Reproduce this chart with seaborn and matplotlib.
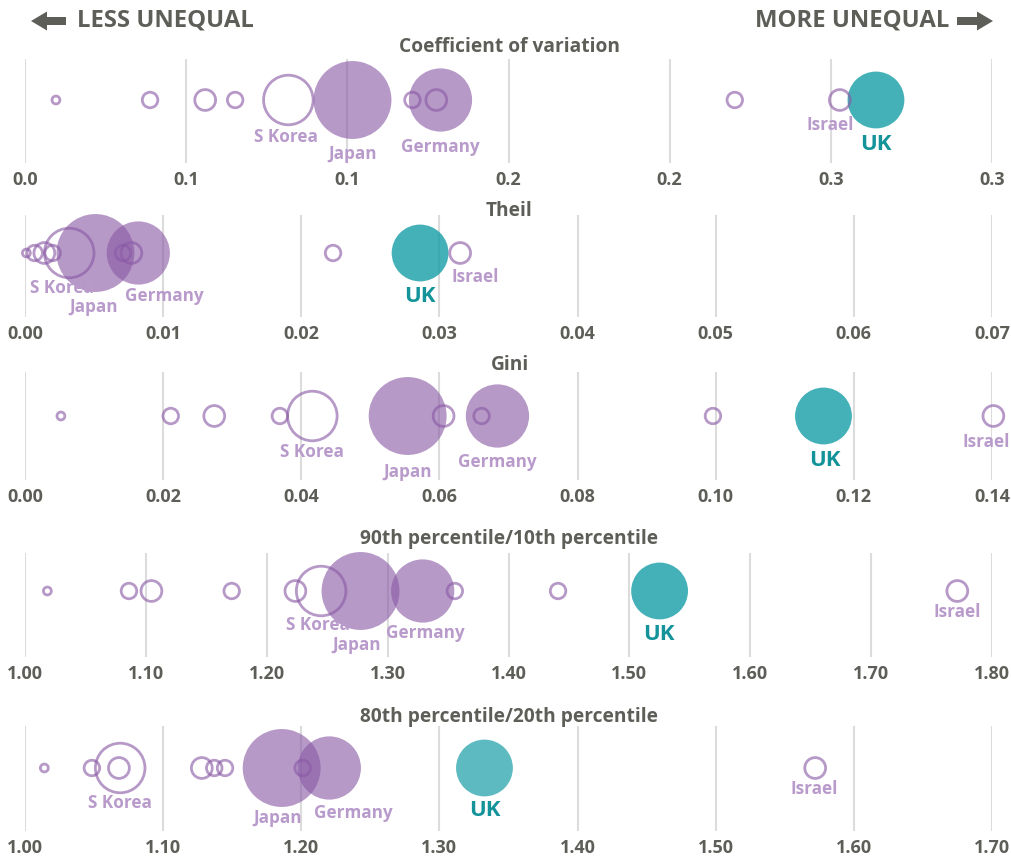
import matplotlib
matplotlib.use("Agg")
import matplotlib.pyplot as plt
import seaborn as sns
import pandas as pd
from matplotlib.patches import FancyArrow

# ---------------- data ----------------
# population-like weights (millions) set the bubble area
cv_values  = [0.0096, 0.0388, 0.0559, 0.0652, 0.0817, 0.1016, 0.1202, 0.1276, 0.1289, 0.2202, 0.2528, 0.2640]
cv_pop     = [1.3, 5, 9, 5, 51, 126, 5, 9, 83, 5, 9, 67]
cv_country = [None, None, None, None, "S Korea", "Japan", None, None, "Germany", None, "Israel", "UK"]
cv_ticks   = [0.0, 0.05, 0.10, 0.15, 0.20, 0.25, 0.30]
cv_ticklabels = ["0.0", "0.1", "0.1", "0.2", "0.2", "0.3", "0.3"]

theil_values  = [0.0001, 0.0007, 0.0014, 0.0020, 0.0032, 0.0051, 0.0071, 0.0077, 0.0082, 0.0223, 0.0286, 0.0315]
theil_pop     = [1.3, 5, 9, 5, 51, 126, 5, 9, 83, 5, 67, 9]
theil_country = [None, None, None, None, "S Korea", "Japan", None, None, "Germany", None, "UK", "Israel"]
theil_ticks   = [0.00, 0.01, 0.02, 0.03, 0.04, 0.05, 0.06, 0.07]
theil_ticklabels = ["0.00", "0.01", "0.02", "0.03", "0.04", "0.05", "0.06", "0.07"]

gini_values  = [0.0052, 0.0211, 0.0274, 0.0369, 0.0416, 0.0554, 0.0606, 0.0661, 0.0684, 0.0996, 0.1156, 0.1402]
gini_pop     = [1.3, 5, 9, 5, 51, 126, 9, 5, 83, 5, 67, 9]
gini_country = [None, None, None, None, "S Korea", "Japan", None, None, "Germany", None, "UK", "Israel"]
gini_ticks   = [0.00, 0.02, 0.04, 0.06, 0.08, 0.10, 0.12, 0.14]
gini_ticklabels = ["0.00", "0.02", "0.04", "0.06", "0.08", "0.10", "0.12", "0.14"]

p9010_values  = [1.0185, 1.086, 1.1046, 1.171, 1.2237, 1.245, 1.2776, 1.329, 1.3556, 1.441, 1.525, 1.7713]
p9010_pop     = [1.3, 5, 9, 5, 9, 51, 126, 83, 5, 5, 67, 9]
p9010_country = [None, None, None, None, None, "S Korea", "Japan", "Germany", None, None, "UK", "Israel"]
p9010_ticks   = [1.0, 1.1, 1.2, 1.3, 1.4, 1.5, 1.6, 1.7, 1.8]
p9010_ticklabels = ["1.00", "1.10", "1.20", "1.30", "1.40", "1.50", "1.60", "1.70", "1.80"]

p8020_values  = [1.014, 1.0484, 1.0689, 1.068, 1.128, 1.137, 1.1448, 1.1858, 1.201, 1.2203, 1.3326, 1.572]
p8020_pop     = [1.3, 5, 51, 9, 9, 5, 5, 126, 5, 83, 67, 9]
p8020_country = [None, None, "S Korea", None, None, None, None, "Japan", None, "Germany", "UK", "Israel"]
p8020_ticks   = [1.0, 1.1, 1.2, 1.3, 1.4, 1.5, 1.6, 1.7]
p8020_ticklabels = ["1.00", "1.10", "1.20", "1.30", "1.40", "1.50", "1.60", "1.70"]

titles = ["Coefficient of variation", "Theil", "Gini",
          "90th percentile/10th percentile", "80th percentile/20th percentile"]
header_left = "LESS UNEQUAL"
header_right = "MORE UNEQUAL"

# ---------------- style / layout ----------------
PURPLE = "#8a5aa6"
TEAL = "#0f9aa3"
LABEL_PURPLE = "#b89acb"
UK_TEXT = "#14939b"
GREY = "#5d5e58"
GRID = "#dcdcdc"

W, H = 1011, 861
AX_LEFT, AX_RIGHT = 25, 992
axes_px = [(59, 163), (215, 317), (372, 480), (553, 657), (726, 831)]
bubble_px = [100, 253, 416, 591, 768]
title_px = [47, 211, 365, 539, 717]
uk_alpha = [0.78, 0.78, 0.78, 0.78, 0.68]
SIZE_PER_UNIT = 24.97  # points^2 per population unit
label_offsets = [
    {"S Korea": (-2, 37), "Japan": (0, 54), "Germany": (0, 47), "Israel": (-10, 25), "UK": (0, 44)},
    {"S Korea": (-7, 35), "Japan": (-2, 54), "Germany": (26, 43), "UK": (0, 44), "Israel": (15, 24)},
    {"S Korea": (0, 36), "Japan": (0, 56), "Germany": (0, 46), "UK": (1, 45), "Israel": (-7, 26)},
    {"S Korea": (-3, 34), "Japan": (-4, 54), "Germany": (3, 42), "UK": (-1, 43), "Israel": (0, 21)},
    {"S Korea": (0, 35), "Japan": (-4, 50), "Germany": (24, 45), "UK": (0, 42), "Israel": (-1, 21)},
]

sns.set_theme(style="white")
plt.rcParams["font.family"] = ["Open Sans", "DejaVu Sans"]
plt.rcParams["font.weight"] = "bold"

fig = plt.figure(figsize=(W / 100, H / 100), dpi=100)

panel_data = [
    (cv_values, cv_pop, cv_country, cv_ticks, cv_ticklabels),
    (theil_values, theil_pop, theil_country, theil_ticks, theil_ticklabels),
    (gini_values, gini_pop, gini_country, gini_ticks, gini_ticklabels),
    (p9010_values, p9010_pop, p9010_country, p9010_ticks, p9010_ticklabels),
    (p8020_values, p8020_pop, p8020_country, p8020_ticks, p8020_ticklabels),
]

maxpop = 130
for i, (vals, pops, countries, ticks, ticklabels) in enumerate(panel_data):
    top, bot = axes_px[i]
    ax = fig.add_axes([AX_LEFT / W, 1 - bot / H, (AX_RIGHT - AX_LEFT) / W, (bot - top) / H])
    f = (bot - bubble_px[i]) / (bot - top)
    df = pd.DataFrame({"value": vals, "pop": pops, "country": countries})
    df["y"] = 0.0
    kind = []
    for c in df["country"]:
        if c in ("Japan", "Germany"):
            kind.append("filled")
        elif c == "UK":
            kind.append("uk")
        else:
            kind.append("hollow")
    df["kind"] = kind

    common = dict(x="value", y="y", size="pop", sizes=(0, SIZE_PER_UNIT * maxpop),
                  size_norm=(0, maxpop), legend=False, ax=ax, clip_on=False)
    sns.scatterplot(data=df[df.kind == "filled"], color=PURPLE, alpha=0.62,
                    edgecolor="none", linewidth=0, zorder=2, **common)
    sns.scatterplot(data=df[df.kind == "uk"], color=TEAL, alpha=uk_alpha[i],
                    edgecolor="none", linewidth=0, zorder=2, **common)
    sns.scatterplot(data=df[df.kind == "hollow"], color=PURPLE, alpha=0.62,
                    facecolor="none", edgecolor=PURPLE, linewidth=2.0, zorder=3, **common)

    for _, row in df.iterrows():
        c = row["country"]
        if c is None or c not in label_offsets[i]:
            continue
        dx, dy = label_offsets[i][c]
        is_uk = c == "UK"
        ax.annotate(c, xy=(row["value"], 0), xytext=(dx, -dy), textcoords="offset pixels",
                    ha="center", va="center", fontsize=16 if is_uk else 12.3,
                    fontweight="bold", color=UK_TEXT if is_uk else LABEL_PURPLE, zorder=5,
                    annotation_clip=False)

    ax.set_xlim(ticks[0], ticks[-1])
    ax.set_ylim(-f, 1 - f)
    ax.set_xticks(ticks)
    ax.set_xticklabels(ticklabels)
    ax.set_yticks([])
    ax.set_xlabel("")
    ax.set_ylabel("")
    ax.grid(axis="x", color=GRID, linewidth=1.5)
    ax.set_axisbelow(True)
    ax.tick_params(axis="x", length=0, pad=6, labelsize=13, labelcolor=GREY)
    for lab in ax.get_xticklabels():
        lab.set_fontweight("bold")
    for s in ax.spines.values():
        s.set_visible(False)
    ax.patch.set_alpha(0)

    fig.text(0.5 + 4 / W, 1 - title_px[i] / H, titles[i], ha="center", va="center",
             fontsize=13.8, fontweight="bold", color=GREY)

# header with arrows
fig.text(77 / W, 1 - 21 / H, header_left, ha="left", va="center",
         fontsize=17.2, fontweight="bold", color=GREY)
fig.text(949 / W, 1 - 21 / H, header_right, ha="right", va="center",
         fontsize=17.2, fontweight="bold", color=GREY)
yA = (H - 21) / 100
fig.add_artist(FancyArrow(66 / 100, yA, -35 / 100, 0, width=0.08, head_width=0.19,
                          head_length=0.16, length_includes_head=True,
                          transform=fig.dpi_scale_trans, color=GREY, linewidth=0))
fig.add_artist(FancyArrow(957 / 100, yA, 36 / 100, 0, width=0.08, head_width=0.19,
                          head_length=0.16, length_includes_head=True,
                          transform=fig.dpi_scale_trans, color=GREY, linewidth=0))

fig.savefig("out.png", dpi=100)
